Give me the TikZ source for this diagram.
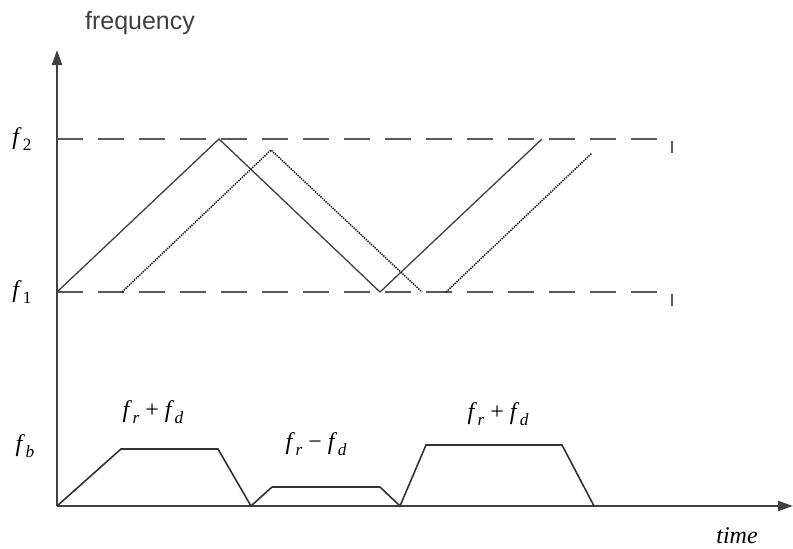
\documentclass[tikz,border=0pt]{standalone}
\usepackage{fontspec}
\setmainfont{Liberation Serif}
\newfontfamily\labsans{Liberation Sans}
\usetikzlibrary{arrows.meta}
\newcommand\fsb[1]{\textit{f}\kern0.5pt\raisebox{-0.28em}{\scalebox{0.72}{\textit{#1}}}}
\newcommand\fsn[1]{\textit{f}\kern1pt\raisebox{-0.28em}{\scalebox{0.72}{#1}}}
\begin{document}
\begin{tikzpicture}[x=1pt,y=-1pt,
  axis/.style={line width=2pt,draw=black!75},
  level/.style={line width=2pt,draw=black!65,dash pattern=on 26pt off 15pt},
  tick/.style={line width=2pt,draw=black!65},
  echo/.style={line width=1.3pt,draw=black!75},
  delayed/.style={line width=1.5pt,draw=black!90,dash pattern=on 1.4pt off 1pt},
  beat/.style={line width=1.6pt,draw=black!80,line join=miter},
  serif/.style={font=\fontsize{24}{28}\selectfont,inner sep=0pt},
  sanslab/.style={font=\labsans\fontsize{25}{30}\selectfont,inner sep=0pt,text=black!75}]
\useasboundingbox (0,0) rectangle (793,549);
% axes
\coordinate (O) at (57,506);
\coordinate (Ytop) at (57,50);
\coordinate (Xend) at (793,506);
\draw[axis,-{Triangle[length=15pt,width=10pt]}] (O) -- (Ytop);
\draw[axis,-{Triangle[length=15pt,width=10pt]}] (O) -- (Xend);
% levels
\coordinate (f2a) at (57,139); \coordinate (f2b) at (662,139);
\coordinate (f1a) at (57,292); \coordinate (f1b) at (662,292);
\draw[level] (f2a) -- (f2b);
\draw[level] (f1a) -- (f1b);
\coordinate (t2a) at (672,141); \coordinate (t2b) at (672,153);
\coordinate (t1a) at (672,294); \coordinate (t1b) at (672,306);
\draw[tick] (t2a) -- (t2b);
\draw[tick] (t1a) -- (t1b);
% transmitted
\coordinate (s0) at (57,292); \coordinate (s1) at (219,139);
\coordinate (s2) at (380,292); \coordinate (s3) at (542,139);
\draw[echo] (s0) -- (s1) -- (s2) -- (s3);
% received (delayed)
\coordinate (r0) at (122,292); \coordinate (r1) at (271,150);
\coordinate (r2) at (422,292); \coordinate (r3) at (446,292);
\coordinate (r4) at (592,153);
\draw[delayed] (r0) -- (r1) -- (r2);
\draw[delayed] (r3) -- (r4);
% beat frequency
\coordinate (b0) at (57,506); \coordinate (b1) at (121,449);
\coordinate (b2) at (218,449); \coordinate (b3) at (251,506);
\coordinate (b4) at (272,487); \coordinate (b5) at (380,487);
\coordinate (b6) at (400,506); \coordinate (b7) at (426,445);
\coordinate (b8) at (562,445); \coordinate (b9) at (594,506);
\draw[beat] (b0) -- (b1) -- (b2) -- (b3) -- (b4) -- (b5) -- (b6) -- (b7) -- (b8) -- (b9);
% labels
\node[sanslab] (freq) at (140,23) {frequency};
\node[serif] (lf2) at (22,139) {\fsn{2}};
\node[serif] (lf1) at (22,292) {\fsn{1}};
\node[serif] (lfb) at (25,446) {\fsb{b}};
\node[serif] (lab1) at (153,412) {\fsb{r} + \fsb{d}};
\node[serif] (lab2) at (316,444) {\fsb{r} − \fsb{d}};
\node[serif] (lab3) at (498,414) {\fsb{r} + \fsb{d}};
\node[serif] (ltime) at (737,536) {\textit{time}};
\end{tikzpicture}
\end{document}
